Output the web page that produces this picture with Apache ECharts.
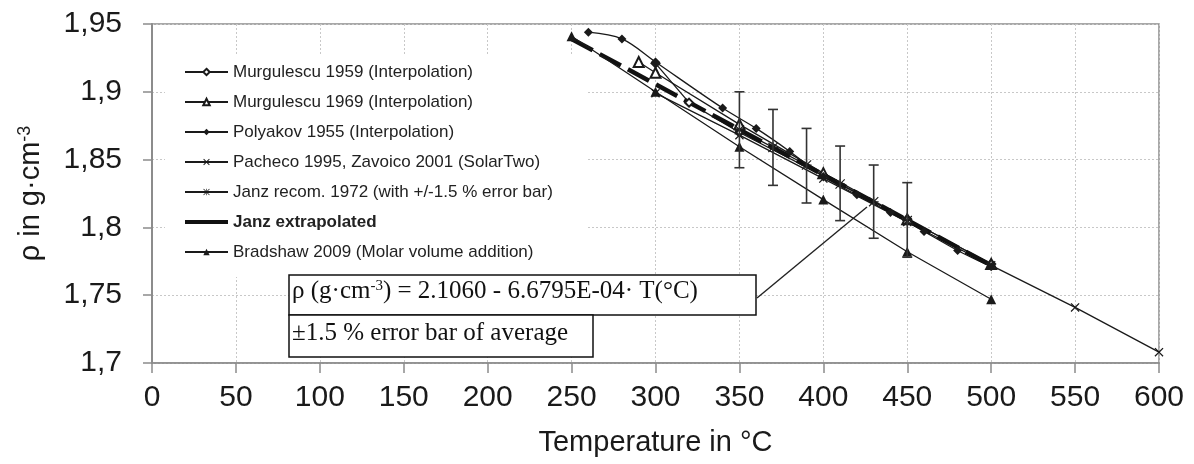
<!DOCTYPE html>
<html>
<head>
<meta charset="utf-8">
<script src="https://cdn.jsdelivr.net/npm/echarts@6/dist/echarts.min.js"></script>
<style>
html,body{margin:0;padding:0;background:#fff;}
#chart{width:1194px;height:464px;}
</style>
</head>
<body>
<div id="chart"></div>
<script>
// ---- data ----
const murg1959T   = [300, 320, 350, 400, 450, 500];
const murg1959Rho = [1.921, 1.892, 1.870, 1.838, 1.806, 1.773];

const murg1969T   = [290, 300, 350, 400, 450, 500];
const murg1969Rho = [1.922, 1.914, 1.876, 1.840, 1.806, 1.773];

const polyakovT   = [260, 280, 300, 340, 360, 380, 400, 420, 440, 460, 480, 500];
const polyakovRho = [1.944, 1.939, 1.922, 1.888, 1.873, 1.856, 1.8375, 1.824, 1.811, 1.797, 1.783, 1.771];

const solarTwoT   = [300, 350, 400, 450, 500, 550, 600];
const solarTwoRho = [1.899, 1.868, 1.836, 1.804, 1.772, 1.741, 1.708];

const janzT       = [350, 370, 390, 410, 430, 450];
const janzRho     = [1.872, 1.859, 1.846, 1.832, 1.819, 1.805];
const janzErrLow  = [1.844, 1.831, 1.818, 1.805, 1.792, 1.778];
const janzErrHigh = [1.900, 1.887, 1.873, 1.860, 1.846, 1.833];

const janzExtT    = [250, 500];
const janzExtRho  = [1.939, 1.772];

const bradshawT   = [250, 300, 350, 400, 450, 500];
const bradshawRho = [1.941, 1.900, 1.8595, 1.8205, 1.782, 1.747];

const seriesNames = [
  'Murgulescu 1959 (Interpolation)',
  'Murgulescu 1969 (Interpolation)',
  'Polyakov 1955 (Interpolation)',
  'Pacheco 1995, Zavoico 2001 (SolarTwo)',
  'Janz recom. 1972 (with +/-1.5 % error bar)',
  'Janz extrapolated',
  'Bradshaw 2009 (Molar volume addition)'
];

const equationText = ['ρ (g·cm', '-3', ') = 2.1060 - 6.6795E-04· T(°C)'];
const noteText = '±1.5 % error bar of average';

// ---- helpers ----
const zip = (xs, ys) => xs.map((x, i) => [x, ys[i]]);
const INK = '#1a1a1a';
const SANS = '"Liberation Sans", Arial, sans-serif';
const SERIF = '"Liberation Serif", "Times New Roman", serif';

const crossPath = 'path://M0,1 L1,0 L5,4 L9,0 L10,1 L6,5 L10,9 L9,10 L5,6 L1,10 L0,9 L4,5 Z';
const starPath = 'path://M4.5,0 h1 v10 h-1 Z M0,4.5 h10 v1 h-10 Z M0.8,0 L10,9.2 L9.2,10 L0,0.8 Z M9.2,0 L10,0.8 L0.8,10 L0,9.2 Z';

const baseLine = { color: INK, width: 1.3 };

const chart = echarts.init(document.getElementById('chart'), null, { renderer: 'canvas' });

const option = {
  animation: false,
  backgroundColor: '#ffffff',
  grid: { left: 152, right: 35, top: 24, bottom: 101, show: true, borderColor: '#8c8c8c', borderWidth: 1.5, backgroundColor: 'transparent' },
  legend: {
    orient: 'vertical',
    left: 165,
    top: 55,
    itemWidth: 43,
    itemHeight: 8,
    itemGap: 10,
    backgroundColor: '#ffffff',
    padding: [7, 34, 15, 18],
    textStyle: { fontSize: 17, color: '#222', fontFamily: SANS, lineHeight: 20 },
    data: seriesNames.map(n => n === 'Janz extrapolated'
      ? { name: n, textStyle: { fontWeight: 'bold' }, lineStyle: { type: 'solid', width: 4 }, itemStyle: { opacity: 0 } }
      : { name: n })
  },
  xAxis: {
    type: 'value', min: 0, max: 600, interval: 50,
    name: 'Temperature in °C', nameLocation: 'middle', nameGap: 65,
    nameTextStyle: { fontSize: 29, color: INK, fontFamily: SANS },
    axisLine: { show: true, onZero: false, lineStyle: { color: '#8c8c8c', width: 1.5 } },
    axisTick: { show: true, inside: false, length: 10, lineStyle: { color: '#8c8c8c', width: 1.5 } },
    axisLabel: { fontSize: 30, color: INK, fontFamily: SANS, margin: 20 },
    splitLine: { show: true, lineStyle: { color: '#c8c8c8', type: [2, 2], width: 1 } }
  },
  yAxis: {
    type: 'value', min: 1.7, max: 1.95, interval: 0.05,
    name: '{a|ρ in g·cm}{s|-3}', nameLocation: 'middle', nameGap: 106, nameRotate: 90,
    nameTextStyle: {
      color: INK, fontFamily: SANS,
      rich: {
        a: { fontSize: 29, color: INK, fontFamily: SANS },
        s: { fontSize: 18, color: INK, fontFamily: SANS, verticalAlign: 'top', padding: [0, 0, 12, 0] }
      }
    },
    axisLine: { show: true, lineStyle: { color: '#8c8c8c', width: 2 } },
    axisTick: { show: true, inside: false, length: 9, lineStyle: { color: '#8c8c8c', width: 1.5 } },
    axisLabel: {
      fontSize: 30, color: INK, fontFamily: SANS, margin: 30,
      formatter: v => String(parseFloat(v.toFixed(2))).replace('.', ',')
    },
    splitLine: { show: true, lineStyle: { color: '#c8c8c8', type: [2, 2], width: 1 } }
  },
  series: [
    {
      name: seriesNames[0], type: 'line', data: zip(murg1959T, murg1959Rho),
      symbol: 'emptyDiamond', symbolSize: 8, lineStyle: baseLine,
      itemStyle: { color: INK, borderColor: INK, borderWidth: 1.2 }
    },
    {
      name: seriesNames[1], type: 'line', data: zip(murg1969T, murg1969Rho),
      symbol: 'emptyTriangle', symbolSize: 10, lineStyle: baseLine,
      itemStyle: { color: INK, borderColor: INK, borderWidth: 1.2 }
    },
    {
      name: seriesNames[2], type: 'line', data: zip(polyakovT, polyakovRho),
      symbol: 'diamond', symbolSize: 9, smooth: 0.35, lineStyle: baseLine,
      itemStyle: { color: INK }
    },
    {
      name: seriesNames[3], type: 'line', data: zip(solarTwoT, solarTwoRho),
      symbol: crossPath, symbolSize: 9, lineStyle: baseLine,
      itemStyle: { color: INK }
    },
    {
      name: seriesNames[4], type: 'line', data: zip(janzT, janzRho),
      symbol: starPath, symbolSize: 10, lineStyle: baseLine,
      itemStyle: { color: INK }
    },
    {
      name: seriesNames[5], type: 'line', data: zip(janzExtT, janzExtRho),
      symbol: 'none', showSymbol: false,
      lineStyle: { color: '#111', width: 4.5, type: [24, 8] },
      itemStyle: { color: '#111' }, z: 3
    },
    {
      name: seriesNames[6], type: 'line', data: zip(bradshawT, bradshawRho),
      symbol: 'triangle', symbolSize: 10, lineStyle: baseLine,
      itemStyle: { color: INK }
    },
    {
      name: 'errorbars', type: 'custom',
      data: janzT.map((t, i) => [t, janzErrLow[i], janzErrHigh[i]]),
      encode: { x: 0, y: [1, 2] },
      renderItem: function (params, api) {
        const lo = api.coord([api.value(0), api.value(1)]);
        const hi = api.coord([api.value(0), api.value(2)]);
        const w = 5;
        const st = { stroke: '#333', lineWidth: 1.6 };
        return {
          type: 'group',
          children: [
            { type: 'line', shape: { x1: lo[0], y1: lo[1], x2: hi[0], y2: hi[1] }, style: st },
            { type: 'line', shape: { x1: lo[0] - w, y1: lo[1], x2: lo[0] + w, y2: lo[1] }, style: st },
            { type: 'line', shape: { x1: hi[0] - w, y1: hi[1], x2: hi[0] + w, y2: hi[1] }, style: st }
          ]
        };
      },
      z: 4
    }
  ],
  graphic: [
    { type: 'line', shape: { x1: 757, y1: 298, x2: 867, y2: 207 }, style: { stroke: '#222', lineWidth: 1.4 }, z: 20 },
    {
      type: 'rect', shape: { x: 289, y: 275, width: 467, height: 40 },
      style: { fill: '#fff', stroke: '#111', lineWidth: 1.5 }, z: 20
    },
    {
      type: 'text', left: 292, top: 279, z: 21,
      style: {
        text: '{a|' + equationText[0] + '}{s|' + equationText[1] + '}{a|' + equationText[2] + '}',
        rich: {
          a: { fontSize: 25, fontFamily: SERIF, fill: '#111' },
          s: { fontSize: 15, fontFamily: SERIF, fill: '#111', verticalAlign: 'top', padding: [0, 0, 10, 0] }
        }
      }
    },
    {
      type: 'rect', shape: { x: 289, y: 315, width: 304, height: 42 },
      style: { fill: '#fff', stroke: '#111', lineWidth: 1.5 }, z: 20
    },
    {
      type: 'text', left: 292, top: 321, z: 21,
      style: { text: noteText, fontSize: 25, fontFamily: SERIF, fill: '#111' }
    }
  ]
};

chart.setOption(option);
</script>
</body>
</html>
